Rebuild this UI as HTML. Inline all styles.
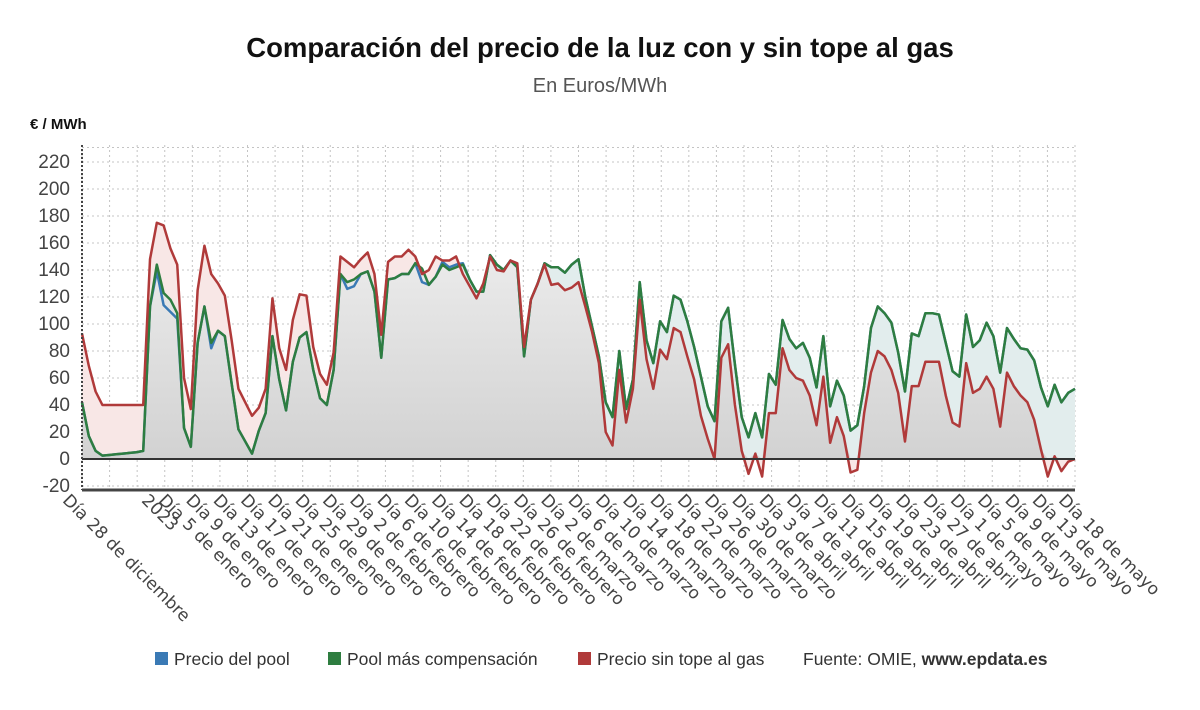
<!DOCTYPE html>
<html><head><meta charset="utf-8">
<style>
body{margin:0;background:#fff;width:1200px;height:705px;overflow:hidden;font-family:"Liberation Sans",sans-serif;}
svg text{font-family:"Liberation Sans",sans-serif;}
svg text.xl{font-family:"DejaVu Sans",sans-serif;}
</style></head>
<body>
<svg id="chart" width="1200" height="705" viewBox="0 0 1200 705" xmlns="http://www.w3.org/2000/svg">
<defs>
<linearGradient id="gray" gradientUnits="userSpaceOnUse" x1="0" y1="162" x2="0" y2="459">
<stop offset="0" stop-color="#f6f6f6"/><stop offset="1" stop-color="#d2d2d2"/>
</linearGradient>
</defs>
<text x="600" y="57" text-anchor="middle" font-size="27.5" font-weight="bold" fill="#111">Comparación del precio de la luz con y sin tope al gas</text>
<text x="600" y="92" text-anchor="middle" font-size="20" fill="#555">En Euros/MWh</text>
<text x="30" y="129" font-size="15" font-weight="bold" fill="#111">€ / MWh</text>
<g id="grid"></g>
<g id="areas"></g>
<g id="lines"></g>
<g id="axes"></g>
<g id="xlabels"></g>
<g font-size="17.5" fill="#333">
<rect x="155" y="652" width="13" height="13" fill="#3a7ab5"/>
<text x="174" y="665">Precio del pool</text>
<rect x="328" y="652" width="13" height="13" fill="#2e7d40"/>
<text x="347" y="665">Pool más compensación</text>
<rect x="578" y="652" width="13" height="13" fill="#b03a3a"/>
<text x="597" y="665">Precio sin tope al gas</text>
<text x="803" y="665">Fuente: OMIE, <tspan font-weight="bold">www.epdata.es</tspan></text>
</g>
</svg>
<script>
const redValues=[93,69,50,40,40,40,40,40,40,40,148,175,173,156,144,60,37,125,158,137,130,121,88,52,42,32,38,52,119,82,66,103,122,121,83,63,55,79,150,146,142,148,153,137,92,146,
150,150,155,150,137,140,150,147,147,150,137,128,119,130,150,140,139,147,145,83,118,130,144,129,130,125,127,131,113,94,71,20,10,66,27,52,118,74,52,81,74,97,94,76,59,32,15,0,75,85,
40,6,-11,4,-13,34,34,82,66,60,58,47,25,61,12,31,17,-10,-8,34,64,80,76,66,49,13,54,54,72,72,72,47,27,24,71,49,52,61,52,24,64,54,47,42,29,7,-13,2,-9,-2,0];
const greenValues=[42,17,6,2.5,3,3.5,4,4.5,5,6,113,144,123,118,108,23,9,86,113,86,95,91,56,22,13,4,21,34,91,59,36,72,90,94,66,45,40,66,137,131,133,137,139,124,75,133,
134,137,137,145,141,129,135,144,140,142,144,133,124,124,151,144,140,147,142,76,118,130,145,142,142,138,144,148,120,98,76,42,31,80,37,59,131,88,71,102,94,121,118,102,83,61,39,28,102,112,
70,31,16,34,16,63,55,103,89,82,86,75,53,91,39,58,47,21,25,54,97,113,108,101,79,50,93,91,108,108,107,86,65,61,107,83,88,101,91,64,97,89,82,81,73,53,39,55,42,49,52];
const blueValues=greenValues.slice();
blueValues[11]=139;blueValues[12]=114;blueValues[13]=109;blueValues[14]=104;blueValues[19]=82;blueValues[39]=126;blueValues[40]=128;blueValues[50]=131;blueValues[53]=146;blueValues[54]=142;blueValues[55]=144;blueValues[56]=145;
const yTicks=[-20,0,20,40,60,80,100,120,140,160,180,200,220];
const xTickLabels=["Día 28 de diciembre","2023","Día 5 de enero","Día 9 de enero","Día 13 de enero","Día 17 de enero","Día 21 de enero","Día 25 de enero","Día 29 de enero","Día 2 de febrero","Día 6 de febrero","Día 10 de febrero","Día 14 de febrero","Día 18 de febrero","Día 22 de febrero","Día 26 de febrero","Día 2 de marzo","Día 6 de marzo","Día 10 de marzo","Día 14 de marzo","Día 18 de marzo","Día 22 de marzo","Día 26 de marzo","Día 30 de marzo","Día 3 de abril","Día 7 de abril","Día 11 de abril","Día 15 de abril","Día 19 de abril","Día 23 de abril","Día 27 de abril","Día 1 de mayo","Día 5 de mayo","Día 9 de mayo","Día 13 de mayo","Día 18 de mayo"];

const NS="http://www.w3.org/2000/svg";
const X0=82,X1=1075,Y0=459,PXU=1.35;
const n=redValues.length;
function xs(i){return X0+i*(X1-X0)/(n-1);}
function ys(v){return Y0-v*PXU;}
function mk(tag,attrs,parent){const e=document.createElementNS(NS,tag);for(const k in attrs)e.setAttribute(k,attrs[k]);parent.appendChild(e);return e;}
const grid=document.getElementById('grid'),areas=document.getElementById('areas'),lines=document.getElementById('lines'),axes=document.getElementById('axes'),xl=document.getElementById('xlabels');
yTicks.forEach(t=>{
  const g=mk('line',{x1:X0,x2:X1,y1:ys(t),y2:ys(t),stroke:'#c4c4c4','stroke-dasharray':'2,3','stroke-width':1},grid);
  
  
  const tx=mk('text',{x:70,y:ys(t)+6,'text-anchor':'end','font-size':19,fill:'#444'},axes);
  tx.textContent=t;
  
  
});
mk('line',{x1:X0,x2:X1,y1:ys(230)-1,y2:ys(230)-1,stroke:'#c4c4c4','stroke-dasharray':'2,3'},grid);
for(let k=0;k<=36;k++){
  const x=X0+k*(X1-X0)/36;
  const g=mk('line',{x1:x,x2:x,y1:145,y2:490,stroke:'#c4c4c4','stroke-dasharray':'2,3'},grid);
  
  
}
function areaPath(vals){let d='M'+xs(0)+','+ys(0);vals.forEach((v,i)=>{d+='L'+xs(i)+','+ys(v);});d+='L'+xs(n-1)+','+ys(0)+'Z';return d;}
function linePath(vals){return vals.map((v,i)=>(i?'L':'M')+xs(i)+','+ys(v)).join('');}
const minVals=redValues.map((v,i)=>Math.min(v,greenValues[i]));
const a1=mk('path',{d:areaPath(greenValues),fill:'#e2eded'},areas);


const a2=mk('path',{d:areaPath(redValues),fill:'#f8e7e6'},areas);


const a3=mk('path',{d:areaPath(minVals.map(v=>Math.max(v,0))),fill:'url(#gray)'},areas);


const zl=mk('line',{x1:X0,x2:X1,y1:Y0,y2:Y0,stroke:'#333','stroke-width':2},axes);


const xa=mk('line',{x1:X0,x2:X1,y1:490,y2:490,stroke:'#444','stroke-width':3},axes);


const ya=mk('line',{x1:X0,x2:X0,y1:145,y2:490,stroke:'#444','stroke-width':2,'stroke-dasharray':'2,2'},axes);


[[blueValues,'#3a7ab5','line-pool'],[greenValues,'#2e7d40','line-compensation'],[redValues,'#b03a3a','line-no-cap']].forEach(([v,c,nm])=>{
  const p=mk('path',{d:linePath(v),fill:'none',stroke:c,'stroke-width':2.5,'stroke-linejoin':'round'},lines);
  
  
});
xTickLabels.forEach((t,i)=>{
  let x;
  if(i===0)x=62;else if(i===1)x=141;else if(i===35)x=1058;else x=158+(i-2)*27.3;
  x+=9;
  const y=492;
  const tx=mk('text',{x:x,y:y+13,'class':'xl','font-size':17,fill:'#444',transform:'rotate(45 '+x+' '+y+')'},xl);
  tx.textContent=t;
  
  
});
</script>
</body></html>
